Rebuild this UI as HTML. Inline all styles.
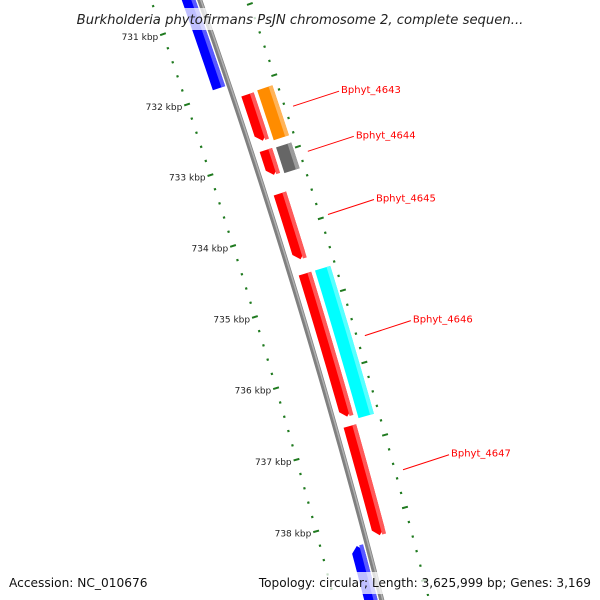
<!DOCTYPE html>
<html><head><meta charset="utf-8">
<style>
html,body{margin:0;padding:0;background:#fff;width:600px;height:600px;overflow:hidden;}
svg{display:block;font-family:"DejaVu Sans","Liberation Sans",sans-serif;}
</style></head>
<body>
<svg id="chart" width="600" height="600" viewBox="0 0 600 600" xmlns="http://www.w3.org/2000/svg">
<g id="ticks"></g>
<g id="backbone"></g>
<g id="features"></g>
<g id="labels"></g>
<rect x="68" y="8" width="464" height="22" fill="#fff" fill-opacity="0.75"/>
<text x="300" y="24" text-anchor="middle" font-size="13.2" font-style="italic" fill="#222">Burkholderia phytofirmans PsJN chromosome 2, complete sequen...</text>
<rect x="5" y="572" width="146" height="22" fill="#fff" fill-opacity="0.75"/>
<text x="9" y="587" font-size="12.2" fill="#111">Accession: NC_010676</text>
<rect x="257" y="572" width="338" height="22" fill="#fff" fill-opacity="0.75"/>
<text x="591" y="587" text-anchor="end" font-size="12.1" fill="#111">Topology: circular; Length: 3,625,999 bp; Genes: 3,169</text>
</svg>
<script>
// Data
const featureNames = ["blue-a","Bphyt_4643-pre","Bphyt_4643","Bphyt_4644-pre","Bphyt_4644","Bphyt_4645","Bphyt_4646-pre","Bphyt_4646","Bphyt_4647","blue-b"];
const featureStart = [730.2, 732.13, 732.12, 732.91, 732.92, 733.52, 734.64, 734.64, 736.76, 738.33];
const featureEnd   = [731.93, 732.78, 732.82, 733.26, 733.28, 734.44, 736.63, 736.69, 738.27, 739.5];
const featureStrand= [-1, 1, 1, 1, 1, 1, 1, 1, 1, -1];
const featureSlot  = ["inner","mid","outer","mid","outer","mid","mid","outer","mid","inner"];
const featureColor = ["#0000ff","#ff0000","#ff8c00","#ff0000","#666666","#ff0000","#ff0000","#00ffff","#ff0000","#0000ff"];
const featureArrow = [true,true,false,true,false,true,true,false,true,true];
const tickKbp = [730,731,732,733,734,735,736,737,738,739];
const tickLabels = ["730 kbp","731 kbp","732 kbp","733 kbp","734 kbp","735 kbp","736 kbp","737 kbp","738 kbp","739 kbp"];
const geneLabels = ["Bphyt_4643","Bphyt_4644","Bphyt_4645","Bphyt_4646","Bphyt_4647"];
const geneLabelKbp = [732.47, 733.10, 733.98, 735.66, 737.51];

// Axis (polar mapping)
const CX=-6633, CY=2400, R=7242, TH0=-0.3350, K=0.01033;
function ang(k){return TH0+K*(k-731);}
function pt(k,r){const a=ang(k);return [CX+r*Math.cos(a), CY+r*Math.sin(a)];}
const NS="http://www.w3.org/2000/svg";
function mk(tag,attrs,parent){const e=document.createElementNS(NS,tag);for(const k in attrs)e.setAttribute(k,attrs[k]);parent.appendChild(e);return e;}
const slots={inner:[-17,-4],mid:[8,21],outer:[25,41]};

// tick rings
const tg=document.getElementById('ticks');
[-46,46].forEach(function(off){
  for(let i=Math.round(730*5);i<=Math.round(740*5);i++){
    const k=i/5, major=(i%5===0);
    const len=major?6:2.2;
    const p1=pt(k,R+off-len/2), p2=pt(k,R+off+len/2);
    const t=mk('line',{x1:p1[0],y1:p1[1],x2:p2[0],y2:p2[1],stroke:'#1f7a1f','stroke-width':major?2:2.2},tg);
    
    
  }
});
tickKbp.forEach(function(k,i){
  const p=pt(k,R-46-5);
  const t=mk('text',{x:p[0],y:p[1]+4,'text-anchor':'end','font-size':'9',fill:'#222'},tg);
  t.textContent=tickLabels[i];
  
  
});

// backbone
const bg=document.getElementById('backbone');
function arcPath(k0,k1,r){let d='';for(let i=0;i<=60;i++){const k=k0+(k1-k0)*i/60;const p=pt(k,r);d+=(i?'L':'M')+p[0].toFixed(2)+' '+p[1].toFixed(2);}return d;}
const bb=mk('path',{d:arcPath(730,740,R),stroke:'#808080','stroke-width':5,fill:'none'},bg);


const bh=mk('path',{d:arcPath(730,740,R+1),stroke:'#b0b0b0','stroke-width':1.5,fill:'none'},bg);



// features
const fg=document.getElementById('features');
function featPath(s,e,r0,r1,strand,arrow){
  const ah=arrow?6/70:0; const pts=[];
  let a0=s,a1=e;
  if(arrow&&strand>0)a1=e-ah; if(arrow&&strand<0)a0=s+ah;
  for(let i=0;i<=20;i++)pts.push(pt(a0+(a1-a0)*i/20,r1));
  if(arrow&&strand>0)pts.push(pt(e,(r0+r1)/2));
  for(let i=20;i>=0;i--)pts.push(pt(a0+(a1-a0)*i/20,r0));
  if(arrow&&strand<0)pts.push(pt(s,(r0+r1)/2));
  return 'M'+pts.map(p=>p[0].toFixed(2)+' '+p[1].toFixed(2)).join('L')+'Z';
}
function lighten(c){const n=parseInt(c.slice(1),16);let r=n>>16,g=(n>>8)&255,b=n&255;r=Math.round(r+(255-r)*0.35);g=Math.round(g+(255-g)*0.35);b=Math.round(b+(255-b)*0.35);return 'rgb('+r+','+g+','+b+')';}
featureStart.forEach(function(s,i){
  const e=featureEnd[i], sl=slots[featureSlot[i]];
  const r0=R+sl[0], r1=R+sl[1];
  const p=mk('path',{d:featPath(s,e,r0,r1,featureStrand[i],featureArrow[i]),fill:featureColor[i]},fg);
  
  
  const h=mk('path',{d:featPath(s,e,r1-4,r1,featureStrand[i],false),fill:lighten(featureColor[i])},fg);
  
  
});

// gene labels
const lg=document.getElementById('labels');
geneLabels.forEach(function(name,i){
  const k=geneLabelKbp[i];
  const p1=pt(k,R+54), p2=[p1[0]+46,p1[1]-15];
  const l=mk('line',{x1:p1[0],y1:p1[1],x2:p2[0],y2:p2[1],stroke:'#ff0000','stroke-width':1},lg);
  
  
  const t=mk('text',{x:p2[0]+2,y:p2[1]+2,'font-size':'10','fill':'#ff0000'},lg);
  t.textContent=name;
  
  
});
</script>
</body></html>
